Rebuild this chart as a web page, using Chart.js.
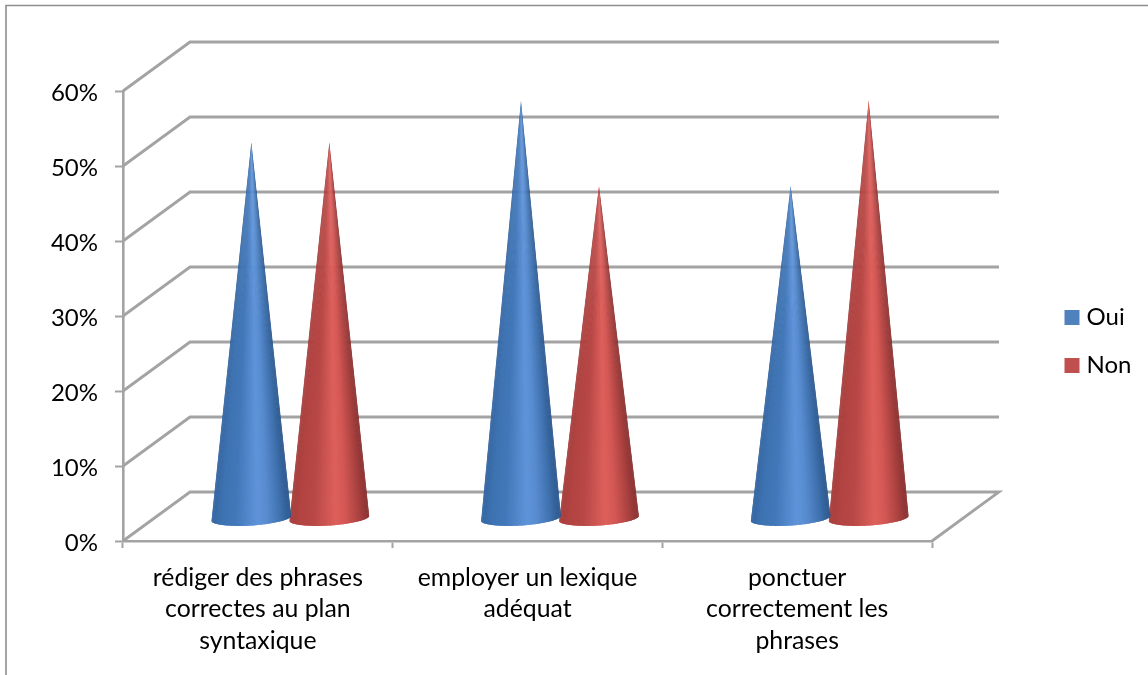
<!DOCTYPE html>
<html lang="fr"><head><meta charset="utf-8">
<style>html,body{margin:0;padding:0;background:#fff}canvas{display:block}</style>
<script src="https://cdn.jsdelivr.net/npm/chart.js@4"></script></head>
<body><canvas id="c" width="1148" height="675"></canvas>
<script>
const categories = [
  ["rédiger des phrases","correctes au plan","syntaxique"],
  ["employer un lexique","adéquat"],
  ["ponctuer","correctement les","phrases"]
];
const oui = [50.4, 56, 44.6];
const non = [50.4, 44.6, 56];
const yTicks = [0,10,20,30,40,50,60];
const seriesNames = ["Oui","Non"];
const seriesColors = ["#4f81bd","#c0504d"];
const shades = [
  [[52,100,160],[62,115,178],[66,120,185],[95,148,218],[88,140,208],[62,112,172],[44,86,140]],
  [[165,62,60],[178,68,66],[184,72,70],[222,96,92],[212,88,85],[170,66,64],[135,48,48]]
];
const stops = [0,0.12,0.3,0.58,0.7,0.88,1];
const wallDX = 67, wallDY = 49, coneDX = 32.5, coneDY = 22.5, apexDY = 21;
const gridColor = "#a3a3a3";
const font = "Lato, Carlito, sans-serif";

function shade(s,u){
  for(let i=1;i<stops.length;i++){
    if(u<=stops[i]){
      const t=(u-stops[i-1])/(stops[i]-stops[i-1]);
      const a=shades[s][i-1],b=shades[s][i];
      return "rgb("+a.map((v,k)=>Math.round(v+(b[k]-v)*t)).join(",")+")";
    }
  }
  return "rgb("+shades[s][stops.length-1].join(",")+")";
}
function drawCone(ctx,cx,cy,apex,R,ry,s){
  const tilt=2.5;
  const px=t=>cx+R*Math.cos(t);
  const py=t=>cy+ry*Math.sin(t)-tilt*Math.cos(t);
  ctx.save();
  ctx.filter="blur(0.5px)";
  ctx.beginPath();
  ctx.moveTo(px(Math.PI),py(Math.PI));
  ctx.lineTo(cx,apex);
  ctx.lineTo(px(0),py(0));
  const N=80;
  for(let i=1;i<=N;i++){const t=Math.PI*i/N;ctx.lineTo(px(t),py(t));}
  ctx.closePath();
  ctx.clip();
  for(let i=0;i<N;i++){
    const t0=Math.PI-Math.PI*i/N;
    const t1=Math.PI-Math.PI*Math.min(N,i+2)/N;
    const u=(1-Math.cos(Math.PI*(i+0.5)/N))/2;
    ctx.fillStyle=shade(s,u);
    ctx.beginPath();
    ctx.moveTo(cx,apex-2);
    ctx.lineTo(px(t0),py(t0)+3);
    ctx.lineTo(px(t1),py(t1)+3);
    ctx.closePath();
    ctx.fill();
  }
  ctx.restore();
}
const scene = {
  id:"scene",
  beforeLayout(chart){
    const l=chart.legend;
    if(l && !l._pinned){
      const f=l.fit.bind(l);
      l.fit=function(){f();this.width=216;};
      l._pinned=true;
    }
  },
  afterLayout(chart){
    const l=chart.legend;
    l.left=1045.5; l.right=1148; l.top=8; l.bottom=675;
    chart.scales.y.getLabelItems(chart.chartArea).forEach(it=>{it.options.translation[1]+=2;});
  },
  beforeDraw(chart){
    const c=chart.ctx;
    c.save();
    c.strokeStyle="#8e8e8e"; c.lineWidth=1.6;
    c.beginPath(); c.moveTo(6,675); c.lineTo(6,5.5); c.lineTo(1148,5.5); c.stroke();
    c.restore();
  },
  beforeDatasetsDraw(chart){
    const c=chart.ctx, x=chart.scales.x, y=chart.scales.y;
    c.save();
    c.strokeStyle=gridColor; c.lineWidth=2.8; c.lineJoin="miter";
    yTicks.forEach(v=>{
      const py=y.getPixelForValue(v);
      c.beginPath();
      c.moveTo(x.left,py);
      c.lineTo(x.left+wallDX,py-wallDY);
      c.lineTo(x.right+wallDX,py-wallDY);
      if(v===0) c.lineTo(x.right,py);
      c.stroke();
    });
    c.restore();
  },
  beforeDatasetDraw(chart,args){
    const meta=chart.getDatasetMeta(args.index);
    meta.data.forEach(b=>{
      const p=b.getProps(["x","y","base","width"],true);
      const R=p.width/2*1.03;
      drawCone(chart.ctx,p.x+coneDX,p.base-coneDY,p.y-apexDY,R,7.5,args.index);
    });
    return false;
  }
};
new Chart(document.getElementById("c"),{
  type:"bar",
  data:{labels:categories,datasets:[
    {label:seriesNames[0],data:oui,backgroundColor:seriesColors[0],borderColor:seriesColors[0],borderWidth:10},
    {label:seriesNames[1],data:non,backgroundColor:seriesColors[1],borderColor:seriesColors[1],borderWidth:10}
  ]},
  plugins:[scene],
  options:{
    responsive:false,animation:false,devicePixelRatio:1,
    layout:{autoPadding:false,padding:{left:0,top:91,right:0,bottom:0}},
    datasets:{bar:{barPercentage:1,categoryPercentage:0.5785}},
    scales:{
      x:{
        afterFit(s){s.height=134;},
        grid:{drawOnChartArea:false,drawTicks:true,tickLength:7,tickColor:gridColor,tickWidth:2},
        border:{display:true,color:gridColor,width:2.6},
        ticks:{autoSkip:false,maxRotation:0,padding:14,color:"#000",font:{family:font,size:24.8,lineHeight:1.27}}
      },
      y:{
        min:0,max:60,
        afterFit(s){s.width=123;},
        afterBuildTicks(s){s.ticks=yTicks.map(v=>({value:v}));},
        grid:{drawOnChartArea:false,drawTicks:true,tickLength:8,tickColor:gridColor,tickWidth:2},
        border:{display:true,color:gridColor,width:2.6},
        ticks:{padding:17,color:"#000",font:{family:font,size:24},callback:v=>v+"%"}
      }
    },
    plugins:{
      tooltip:{enabled:false},
      legend:{position:"right",align:"center",
        labels:{boxWidth:5,boxHeight:5,padding:24,color:"#000",font:{family:font,size:24}}}
    }
  }
});
</script></body></html>
